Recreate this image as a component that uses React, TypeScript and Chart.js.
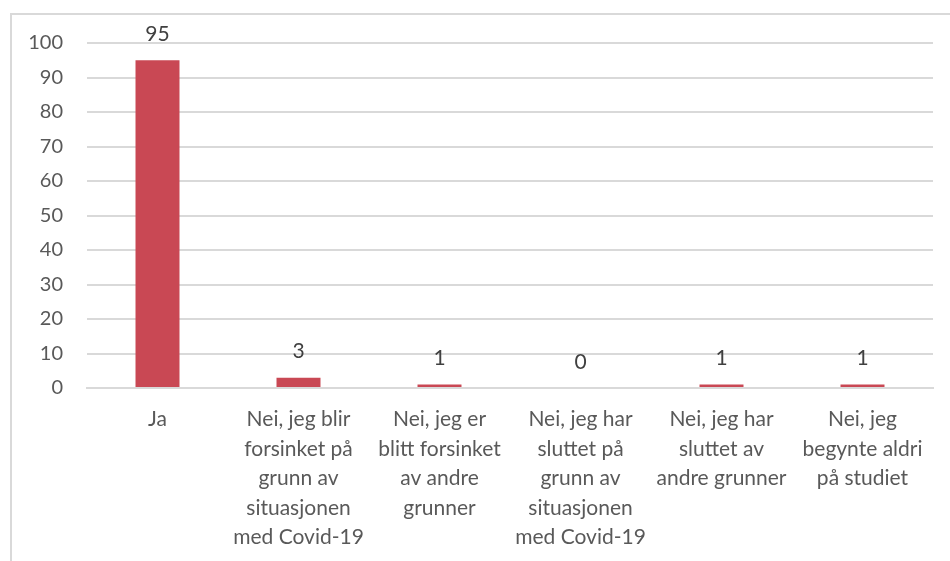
import React, { useEffect, useRef } from "react";
import { Chart, registerables } from "chart.js";

Chart.register(...registerables);

const categories: string[][] = [
  ["Ja"],
  ["Nei, jeg blir", "forsinket på", "grunn av", "situasjonen", "med Covid-19"],
  ["Nei, jeg er", "blitt forsinket", "av andre", "grunner"],
  ["Nei, jeg har", "sluttet på", "grunn av", "situasjonen", "med Covid-19"],
  ["Nei, jeg har", "sluttet av", "andre grunner"],
  ["Nei, jeg", "begynte aldri", "på studiet"],
];
const values: number[] = [95, 3, 1, 0, 1, 1];
const yTicks = { min: 0, max: 100, step: 10 };

const FONT = "Lato, 'Open Sans', sans-serif";
const TEXT = "#595959";
const GRID = "#d9d9d9";
const BAR = "#c94854";

const framePlugin = {
  id: "frame",
  beforeDraw(chart: any) {
    const ctx = chart.ctx;
    ctx.save();
    ctx.strokeStyle = GRID;
    ctx.lineWidth = 2;
    ctx.strokeRect(11, 14, 1000, 700);
    ctx.restore();
  },
};

const labelPlugin = {
  id: "valueLabels",
  afterDatasetsDraw(chart: any) {
    const ctx = chart.ctx;
    const meta = chart.getDatasetMeta(0);
    ctx.save();
    ctx.fillStyle = "#404040";
    ctx.font = `21px ${FONT}`;
    ctx.textAlign = "center";
    ctx.textBaseline = "middle";
    meta.data.forEach((el: any, i: number) => {
      ctx.fillText(String(values[i]), el.x, el.y - 26);
    });
    ctx.restore();
  },
};

export default function App() {
  const ref = useRef<HTMLCanvasElement>(null);
  useEffect(() => {
    if (!ref.current) return;
    const chart = new Chart(ref.current, {
      type: "bar",
      data: {
        labels: categories,
        datasets: [
          {
            data: values,
            backgroundColor: BAR,
            barPercentage: 0.312,
            categoryPercentage: 1,
          },
        ],
      },
      options: {
        animation: false,
        responsive: false,
        layout: { padding: { top: 43, left: 0, right: 17, bottom: 0 } },
        plugins: { legend: { display: false }, tooltip: { enabled: false } },
        scales: {
          x: {
            grid: { display: false, drawTicks: false },
            border: { display: true, color: GRID, width: 2 },
            ticks: {
              color: TEXT,
              padding: 17,
              maxRotation: 0,
              autoSkip: false,
              font: { family: FONT, size: 21, lineHeight: 1.4 },
            },
            afterFit(scale: any) {
              scale.height = 173;
            },
          },
          y: {
            min: yTicks.min,
            max: yTicks.max,
            grid: { color: GRID, lineWidth: 2, drawTicks: false },
            border: { display: false },
            ticks: {
              stepSize: yTicks.step,
              color: TEXT,
              padding: 24,
              font: { family: FONT, size: 20 },
            },
            afterFit(scale: any) {
              scale.width = 87;
            },
          },
        },
      },
      plugins: [framePlugin, labelPlugin],
    });
    return () => chart.destroy();
  }, []);
  return (
    <div style={{ position: "fixed", left: 0, top: 0, width: 950, height: 561, background: "#fff" }}>
      <canvas ref={ref} width={950} height={561} style={{ display: "block" }} />
    </div>
  );
}
